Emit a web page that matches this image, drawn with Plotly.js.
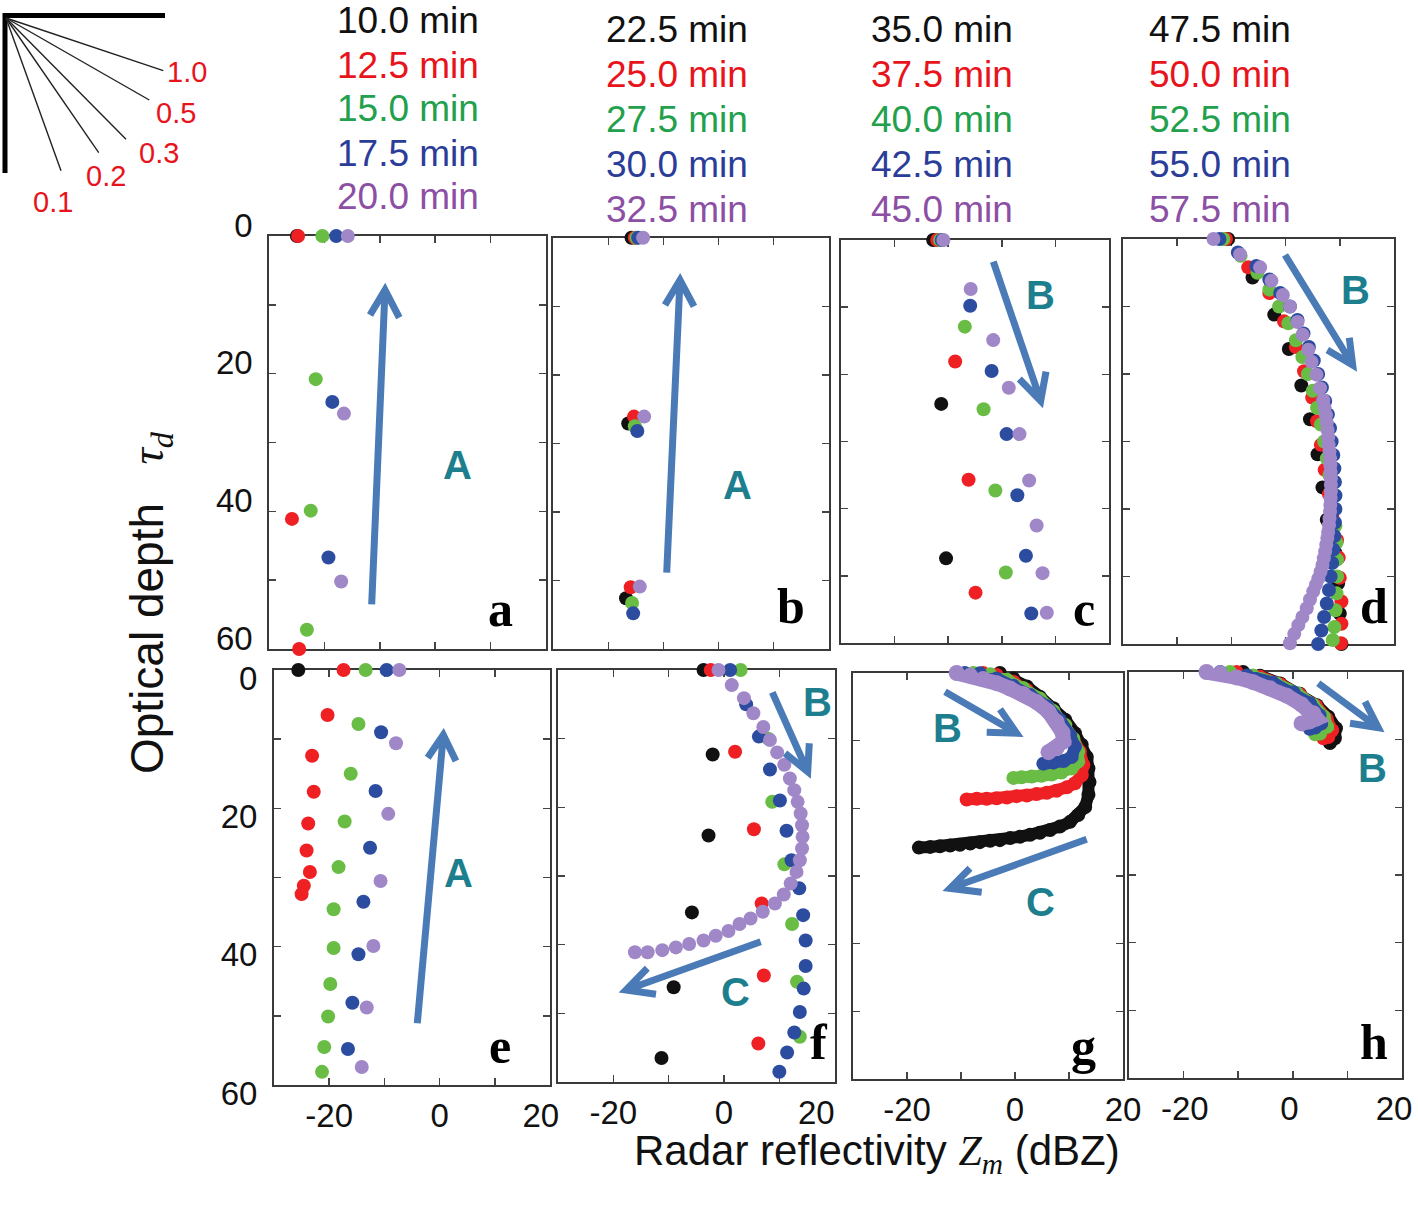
<!DOCTYPE html>
<html>
<head>
<meta charset="utf-8">
<script src="https://cdn.plot.ly/plotly-3.0.1.min.js"></script>
<style>html,body{margin:0;padding:0;background:#fff;}#chart{width:1418px;height:1206px;}</style>
</head>
<body>
<div id="chart"></div>
<script>
// ---------------- DATA ----------------
// Series order in each panel: 10.0/22.5/35.0/47.5 (black), +2.5 (red), +5.0 (green), +7.5 (blue), +10.0 min (purple)
const timeLabels = [
  ['10.0 min','12.5 min','15.0 min','17.5 min','20.0 min'],
  ['22.5 min','25.0 min','27.5 min','30.0 min','32.5 min'],
  ['35.0 min','37.5 min','40.0 min','42.5 min','45.0 min'],
  ['47.5 min','50.0 min','52.5 min','55.0 min','57.5 min']
];
const panelLetters = ['a','b','c','d','e','f','g','h'];
const xTickVals = [-20,-10,0,10,20];
const xTickText = ['-20','','0','','20'];
const yTickVals = [0,10,20,30,40,50,60];
const yTickText = ['0','','20','','40','','60'];
const insetLabels = ['1.0','0.5','0.3','0.2','0.1'];

// Panel a
const zA = [[-25.0],[-24.8,-25.9,-24.6],[-20.4,-21.6,-22.5,-23.2],[-17.9,-18.6,-19.3],[-15.8,-16.5,-17.0]];
const tauA = [[0],[0,41.1,60],[0,20.8,39.9,57.2],[0,24.1,46.7],[0,25.8,50.2]];
// Panel b
const zB = [[-15.8,-16.4,-16.8],[-15.2,-15.35,-15.95],[-14.9,-15.2,-15.7],[-14.6,-14.75,-15.5],[-13.7,-13.5,-14.3]];
const tauB = [[0,27.1,52.6],[0,26.1,51.0],[0,27.5,53.3],[0,28.2,54.8],[0,26.1,50.9]];
// Panel c
const zC = [[-12.8,-11.3,-10.4],[-12.05,-8.7,-6.2,-4.9],[-11.5,-6.9,-3.4,-1.2,0.75],
  [-11.2,-5.9,-1.9,0.9,2.9,4.5,5.5],[-10.9,-5.8,-1.6,1.3,3.3,5.1,6.5,7.6,8.4]];
const tauC = [[0,24.4,47.4],[0,18.1,35.7,52.5],[0,12.9,25.2,37.3,49.5],
  [0,9.8,19.5,28.9,38.0,47.0,55.6],[0,7.3,14.9,22.0,28.9,35.8,42.5,49.6,55.5]];
// Panel d
const zD = [
  [-10.6,-6.1,-2.1,0.6,2.9,4.5,5.9,6.8,7.6,9.2,9.7,10.0,10.3],
  [-11.0,-6.9,-3.0,-0.3,1.9,3.4,4.9,5.8,6.5,7.2,8.0,8.6,9.5,9.8,10.0,10.3,10.3,10.2],
  [-11.5,-8.3,-5.2,-3.0,-1.2,0.5,1.9,3.1,4.1,5.0,5.8,6.5,7.1,7.6,8.1,8.5,8.9,9.2,9.4,9.5,9.5,9.4,9.2,9.0,8.7],
  [-12.2,-8.8,-5.4,-3.0,-1.0,0.8,2.2,3.3,4.3,5.2,6.0,6.7,7.3,7.8,8.2,8.5,8.8,9.0,9.1,9.2,9.2,9.1,9.0,8.8,8.6,8.3,8.0,7.6,7.1,6.6,6.0],
  [-13.3,-8.4,-4.7,-2.6,-0.5,0.8,2.2,3.15,4.2,4.8,5.7,6.35,6.95,7.2,7.45,7.6,7.75,7.85,7.95,8.1,8.2,8.25,8.3,8.35,8.35,8.35,8.3,8.25,8.2,8.1,8.0,7.85,7.7,7.5,7.3,7.05,6.8,6.45,6.05,5.6,5.1,4.5,3.9,3.1,2.35,1.6,0.8]
];
const tauD = [
  [0,5.7,11.2,16.3,21.7,26.7,31.9,36.8,41.6,46.5,51.0,55.5,60],
  [0,4.2,8.0,12.2,16.0,19.6,23.5,27.0,30.5,34.2,37.8,41.2,44.6,47.2,50.2,53.7,57.0,59.9],
  [0,2.5,5,7.5,10,12.5,15,17.5,20,22.5,25,27.5,30,32.5,35,37.5,40,42.5,45,47.5,50,52.5,55,57.5,59.4],
  [0,2,4,6,8,10,12,14,16,18,20,22,24,26,28,30,32,34,36,38,40,42,44,46,48,50,52,54,56,58,60],
  [0,2.3,4.2,6.2,8.3,10,12.3,14.2,16.4,18.2,20.1,22.1,23.9,25,26.1,27.2,28.3,29.4,30.5,31.5,32.5,33.5,34.5,35.5,36.4,37.4,38.4,39.4,40.4,41.4,42.4,43.4,44.3,45.3,46.3,47.3,48.3,49.3,50.3,51.2,52.2,53.4,54.7,56,57.2,58.5,59.9]
];
// Panel e
const zE = [[-25.6],[-17.4,-20.3,-23.1,-22.8,-23.8,-24.1,-23.5,-24.6,-25.0],
  [-13.4,-14.7,-16.1,-17.2,-18.3,-19.2,-19.2,-19.8,-20.2,-20.9,-21.3],
  [-9.6,-10.6,-11.6,-12.6,-13.8,-14.7,-15.8,-16.6],[-7.3,-7.9,-9.3,-10.7,-12.0,-13.2,-14.1]];
const tauE = [[0],[0,6.5,12.4,17.6,22.2,26.1,29.2,31.2,32.4],
  [0,7.8,15.0,21.9,28.5,34.6,40.2,45.4,50.1,54.5,58.1],
  [0,9.0,17.5,25.7,33.5,41.1,48.1,54.8],[0,10.6,20.8,30.5,39.9,48.8,57.4]];
// Panel f
const zF = [[-3.7,-2.05,-2.8,-5.8,-9.1,-11.3],[-2.4,2.0,5.4,6.8,7.2,6.2],[3.0,8.0,8.7,10.9,12.3,13.2,13.7],
  [1.1,4.0,6.3,8.3,10.1,11.3,12.2,13.6,14.3,14.75,14.75,14.4,13.7,12.7,11.4,10.0],
  [-1.0,1.4,3.6,5.3,7.1,8.3,9.6,10.9,11.9,12.7,13.3,13.85,14.1,14.2,14.1,13.7,13.1,12.05,10.8,9.2,7.0,4.8,2.8,0.8,-1.5,-3.7,-6.3,-8.7,-11.15,-13.8,-16.1]];
const tauF = [[0,12.3,24.1,35.3,46.2,56.5],[0,11.9,23.2,34.0,44.5,54.4],[0,10.0,19.2,28.3,37.0,45.4,53.4],
  [0,5.0,9.7,14.5,19.0,23.4,27.7,31.8,35.7,39.4,43.1,46.4,49.8,52.8,55.7,58.5],
  [0,2.2,4.1,6.3,8.3,10.2,12.0,13.8,15.8,17.5,19.2,20.9,22.6,24.3,26.0,27.7,29.4,31.1,32.7,34.0,35.2,36.2,37.0,38.0,38.7,39.4,39.9,40.4,40.8,41.1,41.1]];
// Panel g
const zG = [
  [-2.8,-0.3,2.2,4.6,7.1,9.3,11.1,12.35,13.3,13.6,13.8,13.6,13.0,11.7,10.2,8.3,6.5,4.6,2.8,0.9,-0.9,-2.8,-4.6,-6.5,-8.3,-10.2,-12.0,-13.9,-15.7,-17.8],
  [-5.9,-3.4,-0.3,2.2,4.6,7.1,9.3,10.8,12.0,12.65,12.35,11.1,9.6,7.7,5.9,4.0,2.2,0.3,-1.5,-3.4,-5.25,-7.1,-8.95],
  [-7.7,-4.6,-1.5,1.5,4.6,7.1,9.3,10.8,11.7,11.7,10.5,8.6,6.8,4.9,3.1,1.2,-0.3],
  [-9.3,-6.5,-3.4,-0.3,2.8,5.9,8.3,10.2,11.1,10.5,9.0,7.1,5.25],
  [-10.8,-8.3,-5.9,-3.4,-0.9,1.5,4.0,6.2,7.7,8.8,9.0,7.7,6.2]
];
const tauG = [
  [0,0.8,2.0,3.5,5.2,6.9,8.9,10.6,12.4,14.1,16.1,18.0,19.8,21.0,22.0,22.7,23.2,23.6,23.9,24.2,24.4,24.7,24.8,25.0,25.2,25.4,25.5,25.6,25.7,25.8],
  [0,0.3,1.3,2.5,4.0,5.7,7.7,9.7,11.6,13.6,15.1,16.3,16.9,17.4,17.7,17.9,18.1,18.2,18.4,18.5,18.6,18.6,18.7],
  [0,0.2,1.0,2.2,3.75,5.6,7.7,9.7,11.6,13.1,14.1,14.7,15.0,15.2,15.3,15.4,15.5],
  [0,0.05,0.8,1.9,3.25,4.9,6.9,9.2,10.9,12.4,13.0,13.25,13.4],
  [0,0.4,0.9,1.5,2.3,3.1,4.3,5.7,7.2,8.8,10.1,11.1,11.7]
];
// Panel h
const zH = [[-9.1,-6.0,-2.3,1.3,4.4,6.5,7.9,7.7,6.8],[-10.3,-6.0,-2.3,1.3,4.3,6.2,7.2,6.5,5.6],
  [-11.5,-7.3,-3.0,0.7,3.7,5.7,6.3,5.0,4.1],[-13.3,-8.4,-3.6,0.1,3.1,4.9,5.2,4.1,3.1],
  [-15.8,-13.3,-10.3,-7.3,-4.2,-1.1,1.6,3.75,4.3,3.1,1.6]];
const tauH = [[0,0.55,1.7,3.2,4.9,6.6,8.3,9.8,10.5],[0,0.7,1.8,3.3,5.0,6.9,8.6,9.6,9.8],
  [0,0.5,1.7,3.1,4.8,6.6,8.1,9.1,9.2],[0,0.5,1.6,3.0,4.6,6.4,7.6,8.2,8.4],
  [0,0.2,0.8,1.5,2.4,3.5,4.8,6.1,6.9,7.3,7.6]];

// ---------------- STYLE / LAYOUT ----------------
const W = 1418, H = 1206;
const PX = x => x / W, PY = y => 1 - y / H;
const markerColors = ['#111111','#ee2024','#69bd45','#2c4ca0','#a087c8'];
const textColors = ['#111111','#e8141c','#22a04c','#2b3d98','#8c4fa4'];
const panelZ = [zA,zB,zC,zD,zE,zF,zG,zH];
const panelTau = [tauA,tauB,tauC,tauD,tauE,tauF,tauG,tauH];
const boxes = [[269.3,236,545.7,649],[553.3,237.7,828.7,649],[841,240,1109,643],[1123,239,1394,644],
               [274,670,550,1085],[558,670,834.7,1082],[853,673,1123,1079],[1129,672,1402,1078]];
const banded = [false,false,false,false,false,false,true,true];
const nb = '\u00a0';
// label padding so the bottom labels sit where the figure places them
const bottomLabels = {
  4: ['-20','','0','','20' + nb + nb],
  5: ['-20','','0','','20' + nb + nb + nb + nb],
  6: ['-20','','0','','20'],
  7: [nb + nb + '-20','',nb + '0','','20']
};
const xShift = {7: -8};
const yShift = {0: 11, 4: -8};

const traces = [];
const layout = {
  width: W, height: H, margin: {l:0,r:0,t:0,b:0},
  paper_bgcolor:'#ffffff', plot_bgcolor:'#ffffff', showlegend:false,
  font:{family:'Liberation Sans, Arial, sans-serif', color:'#111'},
  shapes: [], annotations: []
};

for (let p = 0; p < 8; p++) {
  const sfx = p === 0 ? '' : String(p + 1);
  const b = boxes[p];
  const bottom = p >= 4, left = (p === 0 || p === 4);
  const axCommon = {showgrid:false, zeroline:false, showline:true, linecolor:'#3a3a3a', linewidth:2,
    mirror:'ticks', ticks:'inside', ticklen:7, tickwidth:1.5, tickcolor:'#444', layer:'below traces',
    tickfont:{size:33, family:'Liberation Sans, Arial, sans-serif', color:'#111'}, fixedrange:true};
  const xt = bottom ? bottomLabels[p] : xTickVals.map(()=>'');
  layout['xaxis' + sfx] = Object.assign({}, axCommon, {
    domain:[PX(b[0]), PX(b[2])], range:[-30,20], anchor:'y' + sfx,
    tickmode:'array', tickvals:xTickVals, ticktext: xt, ticklabelstandoff: 0, ticklabeloverflow:'allow',
    ticklabelshift: xShift[p] || 0
  });
  layout['yaxis' + sfx] = Object.assign({}, axCommon, {
    domain:[PY(b[3]), PY(b[1])], range:[60,0], anchor:'x' + sfx,
    tickmode:'array', tickvals:yTickVals, ticktext: left ? yTickText : yTickVals.map(()=>''),
    ticklabelstandoff: 8, ticklabelshift: yShift[p] || 0
  });
  for (let k = 0; k < 5; k++) {
    const big = banded[p] && k === 4;
    traces.push({
      type:'scatter', mode: banded[p] ? 'lines+markers' : 'markers',
      x: panelZ[p][k], y: panelTau[p][k], xaxis:'x' + sfx, yaxis:'y' + sfx,
      marker:{color:markerColors[k], size: big ? 16 : 14, line:{width:0}},
      line:{color:markerColors[k], width: big ? 15 : 12},
      cliponaxis:false, hoverinfo:'skip'
    });
  }
  const lp = [[500,609],[791,606],[1084,609],[1374,606],[500,1046],[819,1042],[1083,1046],[1374,1042]][p];
  layout.annotations.push({xref:'paper', yref:'paper', x:PX(lp[0]), y:PY(lp[1]), xanchor:'center', yanchor:'middle',
    text:'<b>' + panelLetters[p] + '</b>', showarrow:false,
    font:{family:'Liberation Serif, Times New Roman, serif', size:50, color:'#000'}});
}

// Time legends (text)
const legendX = [408, 677, 942, 1220];
const legendY0 = [21, 29, 29, 29];
for (let c = 0; c < 4; c++) {
  for (let k = 0; k < 5; k++) {
    layout.annotations.push({xref:'paper', yref:'paper', x:PX(legendX[c]), y:PY(legendY0[c] + (c === 0 ? 44 : 45) * k),
      xanchor:'center', yanchor:'middle', text:timeLabels[c][k], showarrow:false,
      font:{family:'Liberation Sans, Arial, sans-serif', size:37, color:textColors[k]}});
  }
}

// Arrows (decorative) : start, tip, arm1, arm2 in pixels
const arrows = [
  [[371.7,604.3],[385,290],[370,315],[399.3,317.7]],
  [[666.7,572.7],[680,280],[665,305],[694,306.3]],
  [[993.3,261.7],[1040.7,401],[1019.3,379],[1046,371.7]],
  [[1285,255],[1352.7,365],[1327.3,350],[1349.3,337.7]],
  [[417.3,1023.3],[443.3,735],[427.7,757.7],[456,761]],
  [[772.3,692.3],[807.7,771.7],[785,753.3],[809.3,743.3]],
  [[760.7,941.7],[626,990],[647.3,968.3],[656,994.3]],
  [[945,691.7],[1016.7,733.3],[1000,709.3],[986.7,732.3]],
  [[1086.7,839.3],[950,888.3],[970,868.3],[981.7,892.3]],
  [[1318.3,683.3],[1378.3,727.7],[1365,701.7],[1350,723.3]]
];
const pt = q => PX(q[0]).toFixed(5) + ',' + PY(q[1]).toFixed(5);
arrows.forEach(a => {
  layout.shapes.push({type:'path', xref:'paper', yref:'paper', layer:'above',
    path:'M' + pt(a[0]) + ' L' + pt(a[1]) + ' M' + pt(a[2]) + ' L' + pt(a[1]) + ' L' + pt(a[3]),
    line:{color:'#4a7bb7', width:7}});
});
// Region letters
const regionLetters = [['A',457,465],['A',737,485],['B',1040,295],['B',1355,290],['A',458,873],
  ['B',817,702],['C',735,992],['B',947,728],['C',1040,902],['B',1372,768]];
regionLetters.forEach(r => {
  layout.annotations.push({xref:'paper', yref:'paper', x:PX(r[1]), y:PY(r[2]), xanchor:'center', yanchor:'middle',
    text:'<b>' + r[0] + '</b>', showarrow:false,
    font:{family:'Liberation Sans, Arial, sans-serif', size:40, color:'#1d7e8e'}});
});

// Inset diagram top-left
layout.shapes.push({type:'line', xref:'paper', yref:'paper', x0:PX(3), y0:PY(15.5), x1:PX(165), y1:PY(15.5), line:{color:'#000', width:5}});
layout.shapes.push({type:'line', xref:'paper', yref:'paper', x0:PX(5), y0:PY(13), x1:PX(5), y1:PY(173), line:{color:'#000', width:5}});
const insetEnds = [[163.3,70.7],[149.3,100],[126,139.3],[98.7,152.7],[61,170.7]];
const insetLabelPos = [[187,72],[176,113],[159,153],[106,176],[53,202]];
insetEnds.forEach((e, i) => {
  layout.shapes.push({type:'line', xref:'paper', yref:'paper', x0:PX(6), y0:PY(18), x1:PX(e[0]), y1:PY(e[1]), line:{color:'#222', width:1.4}});
  layout.annotations.push({xref:'paper', yref:'paper', x:PX(insetLabelPos[i][0]), y:PY(insetLabelPos[i][1]),
    xanchor:'center', yanchor:'middle', text:insetLabels[i], showarrow:false,
    font:{family:'Liberation Sans, Arial, sans-serif', size:29, color:'#e8141c'}});
});

// Axis titles
layout.annotations.push({xref:'paper', yref:'paper', x:PX(150), y:PY(603), xanchor:'center', yanchor:'middle',
  textangle:-90, showarrow:false,
  text:'Optical depth\u00a0\u00a0\u00a0<span style="font-family:Liberation Serif, Times New Roman, serif"><i>τ<sub>d</sub></i></span>',
  font:{family:'Liberation Sans, Arial, sans-serif', size:46, color:'#111'}});
layout.annotations.push({xref:'paper', yref:'paper', x:PX(877), y:PY(1153), xanchor:'center', yanchor:'middle',
  showarrow:false,
  text:'Radar reflectivity <span style="font-family:Liberation Serif, Times New Roman, serif"><i>Z<sub>m</sub></i></span> (dBZ)',
  font:{family:'Liberation Sans, Arial, sans-serif', size:42, color:'#111'}});

Plotly.newPlot('chart', traces, layout, {staticPlot:true, displayModeBar:false});
</script>
</body>
</html>
